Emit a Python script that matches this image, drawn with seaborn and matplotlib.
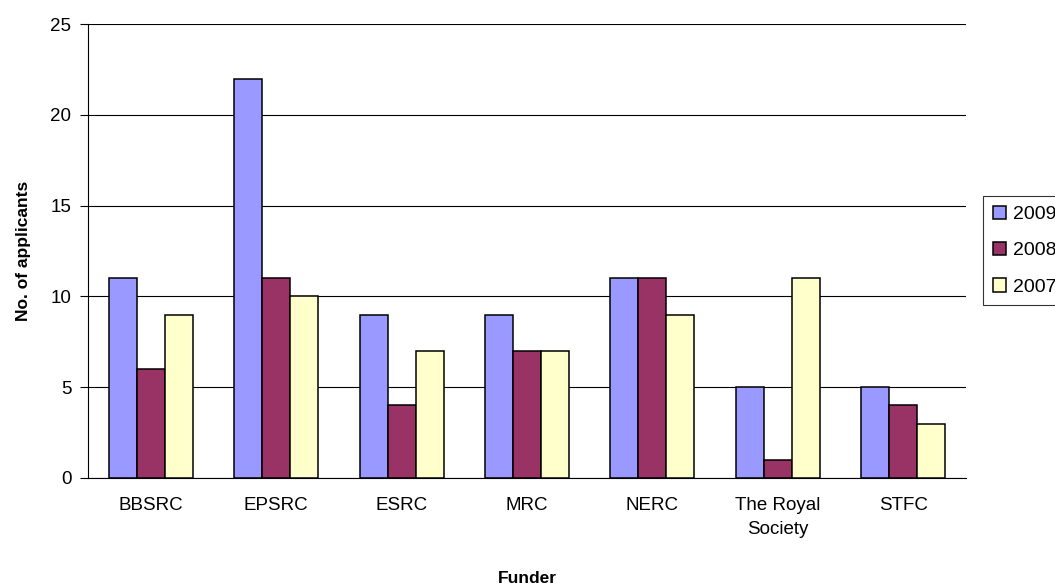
import pandas as pd
import numpy as np
import seaborn as sns
import matplotlib.pyplot as plt

# data
funders = ["BBSRC", "EPSRC", "ESRC", "MRC", "NERC", "The Royal\nSociety", "STFC"]
years = ["2009", "2008", "2007"]
y2009 = [11, 22, 9, 9, 11, 5, 5]
y2008 = [6, 11, 4, 7, 11, 1, 4]
y2007 = [9, 10, 7, 7, 9, 11, 3]
colours = ["#9999FF", "#993366", "#FFFFCC"]

df = pd.DataFrame({"Funder": funders * 3,
                   "Year": [y for y in years for _ in funders],
                   "Applicants": y2009 + y2008 + y2007})

sns.set_style("white")
plt.rcParams['font.family'] = ['Liberation Sans', 'DejaVu Sans']
plt.rcParams['text.color'] = 'black'
plt.rcParams['axes.labelcolor'] = 'black'
plt.rcParams['xtick.color'] = 'black'
plt.rcParams['ytick.color'] = 'black'

fig = plt.figure(figsize=(10.55, 5.87), dpi=100)
ax = fig.add_axes([0.0834, 0.1857, 0.8322, 0.7733])

sns.barplot(data=df, x="Funder", y="Applicants", hue="Year", order=funders,
            hue_order=years, palette=colours, width=0.67, gap=0,
            edgecolor="black", linewidth=1.1, saturation=1, ax=ax, zorder=3)

ax.set_ylim(0, 25)
ax.set_yticks(range(0, 26, 5))
ax.set_xlim(-0.5, len(funders) - 0.5)
ax.yaxis.grid(True, color="black", linewidth=0.8, zorder=0)
ax.set_axisbelow(True)

for s in ["top", "right"]:
    ax.spines[s].set_visible(False)
for s in ["left", "bottom"]:
    ax.spines[s].set_color("black")
    ax.spines[s].set_linewidth(0.8)

# tick marks between categories, labels centred
ax.set_xticks(np.arange(-0.5, len(funders), 1), minor=True)
ax.tick_params(axis="x", which="major", length=0, labelsize=13.5, pad=14)
for lab in ax.get_xticklabels():
    lab.set_linespacing(1.5)
ax.tick_params(axis="x", which="minor", length=6, width=0.8, direction="out")
ax.tick_params(axis="y", length=6, width=0.8, direction="out", labelsize=13.5, pad=6)
ax.tick_params(left=True, bottom=True)

ax.set_xlabel("Funder", fontsize=12.5, fontweight="bold", labelpad=24)
ax.set_ylabel("No. of applicants", fontsize=12.5, fontweight="bold", labelpad=14)

leg = ax.legend(loc="upper left", bbox_to_anchor=(983 / 1055, 1 - 196 / 587),
                bbox_transform=fig.transFigure, frameon=True, fancybox=False,
                fontsize=14, handlelength=0.7, handleheight=0.7, handletextpad=0.35,
                borderpad=0.5, labelspacing=0.95, borderaxespad=0)
leg.get_frame().set_edgecolor("black")
leg.get_frame().set_linewidth(0.8)

fig.savefig("out.png", dpi=100)
